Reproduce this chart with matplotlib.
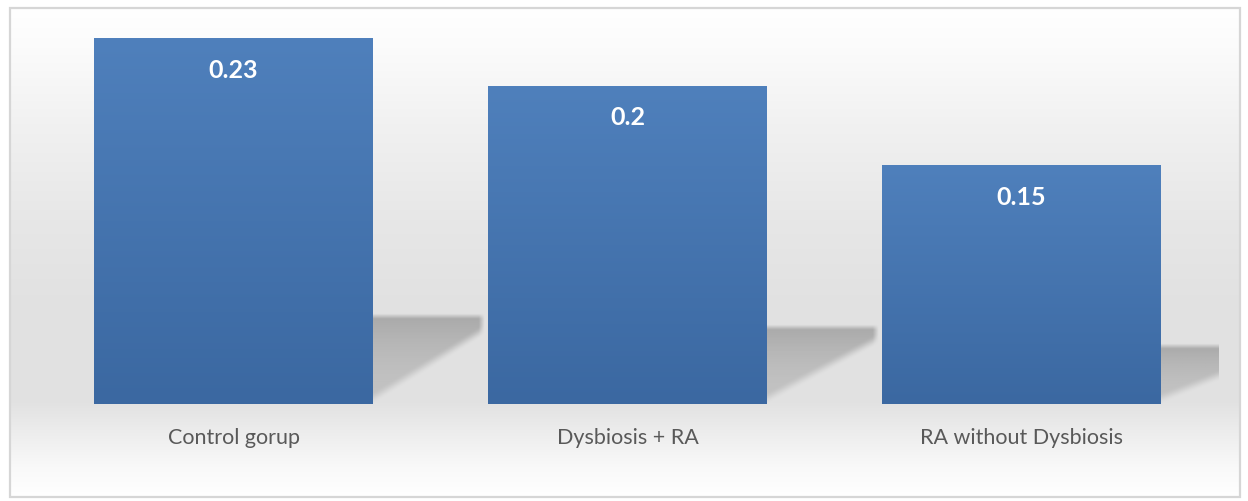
import numpy as np
import matplotlib
matplotlib.use("Agg")
import matplotlib.pyplot as plt
from matplotlib.patches import Rectangle
from matplotlib.colors import LinearSegmentedColormap

categories = ["Control gorup", "Dysbiosis + RA", "RA without Dysbiosis"]
values = [0.23, 0.2, 0.15]
value_labels = ["0.23", "0.2", "0.15"]

W, H = 1248, 502
fig = plt.figure(figsize=(W / 100, H / 100), dpi=100)
fig.patch.set_facecolor("white")

# background gradient axes
bg = fig.add_axes([0, 0, 1, 1])
bg.set_xlim(0, W)
bg.set_ylim(H, 0)
bg.axis("off")
ys = np.arange(H)
pts_y = [0, 40, 120, 220, 300, 405, 430, 470, 502]
pts_v = [1.0, 0.985, 0.945, 0.905, 0.885, 0.885, 0.92, 0.975, 1.0]
prof = np.interp(ys, pts_y, pts_v)
img = np.repeat(prof[:, None], 2, axis=1)
img = np.dstack([img, img, img])
bg.imshow(img, extent=(10, 1240, 497, 8), aspect="auto", interpolation="bilinear", zorder=0)
bg.add_patch(Rectangle((9.5, 8.5), 1230.5, 489, fill=False, edgecolor="#d6d6d6", lw=1.6, zorder=2))

# main axes: x from 36.5 to 1218.5 px, y baseline at 405 px, top at 8.25 px (0.25)
left = 36.5 / W
right = 1218.5 / W
bottom = (H - 405) / H
top = (H - 8.25) / H
ax = fig.add_axes([left, bottom, right - left, top - bottom])
ax.patch.set_alpha(0)
ax.set_xlim(-0.5, 2.5)
ax.set_ylim(0, 0.25)
for s in ax.spines.values():
    s.set_visible(False)
ax.set_xticks([])
ax.set_yticks([])

pxx = 1182.0 / 3.0   # pixels per x unit
pxy = 396.75 / 0.25  # pixels per y unit

bw = 0.708
x = np.arange(len(categories))
bars = ax.bar(x, values, width=bw, color="none", edgecolor="none", zorder=3)

bar_cmap = LinearSegmentedColormap.from_list("b", ["#3b68a1", "#4f80bc"])
grad = np.linspace(0, 1, 256)[:, None]

for i, b in enumerate(bars):
    x0 = b.get_x()
    x1 = x0 + b.get_width()
    h = b.get_height()
    # soft perspective shadow on the floor
    sh_px = 0.24 * h * pxy
    sw_px = 112.0
    nx, ny = 224, 200
    X = np.linspace(0, sw_px, nx)[None, :]
    Y = np.linspace(0, sh_px + 6, ny)[:, None]
    ax0, ay0 = 1.0, 2.0
    bx, by = sw_px, 0.80 * sh_px
    dx, dy = bx - ax0, by - ay0
    L = np.hypot(dx, dy)
    d = (-(X - ax0) * dy + (Y - ay0) * dx) / L  # positive above line
    a_diag = np.clip(d / 11.0 + 0.15, 0, 1)
    a_diag = a_diag * a_diag * (3 - 2 * a_diag)
    a_top = np.clip((sh_px - Y) / 5.0 + 0.5, 0, 1)
    a_right = np.clip((sw_px - X) / 6.0, 0, 1)
    inten = 0.42 + 0.36 * (Y / sh_px) ** 2
    alpha = np.clip(a_diag * a_top * a_right * inten, 0, 1)
    rgba = np.zeros((ny, nx, 4))
    rgba[..., :3] = 0.60
    rgba[..., 3] = alpha
    ax.imshow(rgba, extent=(x1, x1 + sw_px / pxx, 0, (sh_px + 6) / pxy), origin="lower",
              aspect="auto", interpolation="bilinear", zorder=2)
    # bar gradient
    ax.imshow(grad, extent=(x0, x1, 0, h), origin="lower", cmap=bar_cmap,
              aspect="auto", interpolation="bilinear", zorder=3)
    ax.text(x[i], h - 0.019, value_labels[i], ha="center", va="center", color="white",
            fontsize=18, fontweight="bold", family=["Lato", "DejaVu Sans"], zorder=5)
    ax.text(x[i], -0.0205, categories[i], ha="center", va="center", color="#595959",
            fontsize=15.5, family=["Lato", "DejaVu Sans"], zorder=5, clip_on=False)

ax.set_xlim(-0.5, 2.5)
ax.set_ylim(0, 0.25)

fig.savefig("out.png", dpi=100, facecolor="white")
